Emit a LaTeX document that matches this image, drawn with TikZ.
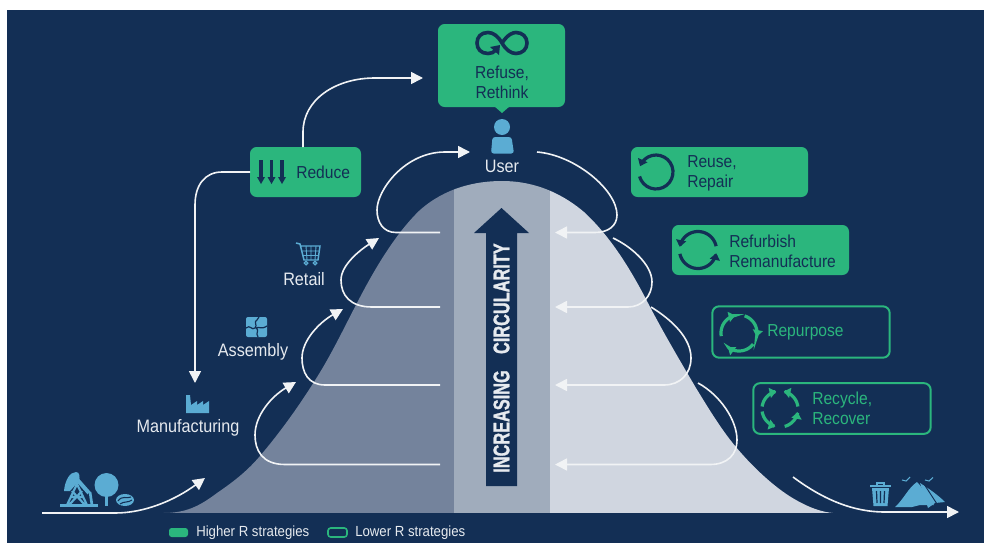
\documentclass[tikz,border=0pt]{standalone}
\usepackage{fontspec}
\setmainfont{Liberation Sans}[FakeStretch=0.9]
\newfontfamily\condbold{Liberation Sans Bold}[FakeStretch=0.72,FakeBold=1.2]
\usetikzlibrary{arrows.meta}
\definecolor{navy}{HTML}{132F55}
\definecolor{grn}{HTML}{2BB67D}
\definecolor{icon}{HTML}{5BACD3}
\definecolor{bellL}{HTML}{74839C}
\definecolor{bellM}{HTML}{A0ACBC}
\definecolor{bellR}{HTML}{D0D6E0}
\definecolor{lab}{HTML}{E6EAEF}
\tikzset{
  flow/.style={draw=white!94!navy,line width=1.2pt,-{Triangle[length=9pt,width=9pt]}},
  hi/.style={fill=grn,rounded corners=5pt,inner sep=0pt,outer sep=0pt},
  lo/.style={draw=grn,line width=1.5pt,rounded corners=5pt,inner sep=0pt,outer sep=0pt},
  tdark/.style={text=navy,font=\fontsize{13}{15}\selectfont,inner sep=0pt,anchor=west},
  tgrn/.style={text=grn,font=\fontsize{13}{15}\selectfont,inner sep=0pt,anchor=west},
  tlab/.style={text=lab,font=\fontsize{13.5}{15}\selectfont,inner sep=0pt},
  tleg/.style={text=lab,font=\fontsize{11}{12}\selectfont,inner sep=0pt,anchor=west},
}
\newcommand{\carc}[7][]{% opts, cx, cy, r, a1, a2, color
  \draw[#7,line width=2.4pt,-{Triangle[length=5pt,width=7.5pt]},#1]
    plot[domain=#5:#6,samples=24,smooth] ({#2+#4*cos(\x)},{#3+#4*sin(\x)});}
\begin{document}
\begin{tikzpicture}[x=0.75pt,y=-0.75pt]
\useasboundingbox (0,0) rectangle (984,543);
\fill[white] (0,0) rectangle (984,543);
\fill[navy] (7,10) rectangle (984,543);
% bell
\def\bell{(163,513) to[out=0,in=-143] (217,493) .. controls (236,480) and (248,470) .. (260,456)
  .. controls (282,430) and (302,402) .. (322,369) .. controls (335,347) and (346,324) .. (357,303)
  .. controls (375,268) and (396,233) .. (420,210) .. controls (445,188) and (475,181) .. (502,181)
  .. controls (530,181) and (558,190) .. (584,212) .. controls (610,236) and (630,268) .. (648,303)
  .. controls (662,330) and (676,354) .. (696,388) .. controls (712,414) and (724,434) .. (742,454)
  .. controls (758,472) and (778,490) .. (796,500) .. controls (810,508) and (822,512) .. (833,513) -- cycle}
\begin{scope}
  \clip \bell;
  \fill[bellL] (150,170) rectangle (454,513);
  \fill[bellM] (454,170) rectangle (550,513);
  \fill[bellR] (550,170) rectangle (840,513);
\end{scope}
% central arrow
\fill[navy] (486,486) -- (517,486) -- (517,233) -- (529,233) -- (501.5,208) -- (474,233) -- (486,233) -- cycle;
\node[rotate=90,text=lab,inner sep=0pt,font=\condbold\fontsize{17}{19}\selectfont] (inc) at (501.5,358) {INCREASING\hspace{0.72em}CIRCULARITY};
% boxes
\node[hi,minimum width=95.25pt,minimum height=62.25pt] (refuse) at (501.5,65.5) {};
\fill[grn] (494,106) -- (510,106) -- (502,113) -- cycle;
\node[hi,minimum width=83.25pt,minimum height=37.5pt] (reduce) at (305.5,172) {};
\node[hi,minimum width=132.75pt,minimum height=37.5pt] (reuse) at (719.5,172) {};
\node[hi,minimum width=132.75pt,minimum height=37.5pt] (refurb) at (760.5,250) {};
\node[lo,minimum width=133pt,minimum height=38.5pt] (repurp) at (801,332) {};
\node[lo,minimum width=133pt,minimum height=38pt] (recyc) at (842,408.5) {};
% box text
\node[text=navy,align=center,font=\fontsize{13}{15}\selectfont,inner sep=0pt] (trefuse) at (502,82) {Refuse,\\Rethink};
\node[tdark] (treduce) at (296,172) {Reduce};
\node[tdark,align=left] (treuse) at (687,173) {Reuse,\\Repair};
\node[tdark,align=left] (trefurb) at (729,251.5) {Refurbish\\Remanufacture};
\node[tgrn] (trepurp) at (767,332) {Repurpose};
\node[tgrn,align=left] (trecyc) at (812,408.5) {Recycle,\\Recover};
% labels
\node[tlab] (user) at (502,166) {User};
\node[tlab] (retail) at (304,279) {Retail};
\node[tlab] (assembly) at (253,352) {Assembly};
\node[tlab] (manuf) at (188,428) {Manufacturing};
% legend
\node[fill=grn,rounded corners=2pt,minimum width=14.25pt,minimum height=6.75pt,inner sep=0pt] (lh) at (178.5,532.5) {};
\node[tleg] (tlh) at (196,532.5) {Higher R strategies};
\node[draw=grn,line width=1.2pt,rounded corners=2pt,minimum width=14.25pt,minimum height=6.75pt,inner sep=0pt] (ll) at (337.5,532.5) {};
\node[tleg] (tll) at (355,532.5) {Lower R strategies};
% coordinates for connectors
\coordinate (redTop) at (303,147);
\coordinate (refIn) at (423,78);
\coordinate (manIn) at (195,383);
\coordinate (srcS) at (42,513);
\coordinate (srcT) at (205,478);
\coordinate (L1) at (440,464.5);
\coordinate (L2) at (440,385);
\coordinate (L3) at (440,307);
\coordinate (L4) at (440,232.5);
\coordinate (T1) at (296,382);
\coordinate (T2) at (343,309);
\coordinate (T3) at (379,238);
\coordinate (T4) at (470,152);
\coordinate (R1) at (555,232.5);
\coordinate (R2) at (555,307);
\coordinate (R3) at (555,385);
\coordinate (R4) at (555,464.5);
\coordinate (U) at (537,152);
\coordinate (S2) at (613,238);
\coordinate (S3) at (651,307);
\coordinate (S4) at (698,383);
\coordinate (S5) at (793,477);
\coordinate (endT) at (959,512);
% connectors
\draw[flow] (redTop) -- (303,132) .. controls (303,100) and (335,78) .. (375,78) -- (refIn);
\draw[flow] (reduce.west) -- (222,172) .. controls (205,172) and (195,185) .. (195,205) -- (manIn);
\draw[flow] (srcS) -- (115,513) .. controls (145,513) and (175,500) .. (srcT);
\draw[flow] (L1) -- (285,464.5) .. controls (262,464.5) and (255,450) .. (255,435) .. controls (255,415) and (272,396) .. (T1);
\draw[flow] (L2) -- (325,385) .. controls (308,385) and (302,372) .. (302,358) .. controls (302,340) and (320,322) .. (T2);
\draw[flow] (L3) -- (372,307) .. controls (350,307) and (341,295) .. (341,280) .. controls (341,265) and (360,250) .. (T3);
\draw[flow] (L4) -- (396,232.5) .. controls (383,232.5) and (377,222) .. (377,210) .. controls (377,190) and (405,152) .. (445,152) -- (T4);
\draw[flow] (U) .. controls (575,155) and (617,190) .. (617,215) .. controls (617,226) and (608,232.5) .. (595,232.5) -- (R1);
\draw[flow] (S2) .. controls (632,247) and (652,265) .. (652,282) .. controls (652,296) and (642,307) .. (628,307) -- (R2);
\draw[flow] (S3) .. controls (672,320) and (691,338) .. (691,358) .. controls (691,374) and (680,385) .. (664,385) -- (R3);
\draw[flow] (S4) .. controls (720,395) and (737,420) .. (737,440) .. controls (737,454) and (728,464.5) .. (710,464.5) -- (R4);
\draw[flow] (S5) .. controls (820,497) and (850,512) .. (885,512) -- (endT);
% --- icons ---
% infinity
\draw[navy,line width=2.7pt] (496,50) .. controls (494,52.5) and (491,53.5) .. (488,53.5) .. controls (481,53.5) and (477,49) .. (477,43)
  .. controls (477,37) and (481,32.5) .. (488,32.5) .. controls (493,32.5) and (498,36) .. (502,43)
  .. controls (506,50) and (511,53.5) .. (516,53.5) .. controls (522.5,53.5) and (527,49) .. (527,43)
  .. controls (527,37) and (522.5,32.5) .. (516,32.5) .. controls (513,32.5) and (508,34) .. (502,43);
\fill[navy] (490,47) -- (500,45) -- (499,55) -- cycle;
% person
\fill[icon] (502,127) circle[radius=8];
\fill[icon,rounded corners=2pt] (491,153.5) -- (492.5,137) -- (511.5,137) -- (514,153.5) -- cycle;
% reduce arrows
\foreach \xx in {261,271.5,282}{
  \draw[navy,line width=2.6pt] (\xx,160) -- (\xx,178);
  \fill[navy] (\xx-4,177) -- (\xx+4,177) -- (\xx,184) -- cycle;
}
% circular icons
\carc{656}{172}{17}{165}{-160}{navy}
\carc{698}{250}{18.5}{-12}{-170}{navy}
\carc{698}{250}{18.5}{168}{10}{navy}
\carc{739}{333}{18}{-72}{12}{grn}
\carc{739}{333}{18}{38}{128}{grn}
\carc{739}{333}{18}{170}{258}{grn}
\carc{780}{409}{18}{-8}{-78}{grn}
\carc{780}{409}{18}{188}{258}{grn}
\carc{780}{409}{18}{75}{10}{grn}
\carc{780}{409}{18}{172}{105}{grn}
% cart
\draw[icon,line width=1.1pt] (296,243) -- (300,244) -- (304,260) -- (318,260) -- (320,246) -- (301,246);
\draw[icon,line width=.7pt] (302,251) -- (319,251) (303,255.5) -- (318.5,255.5) (306,246) -- (307,260) (311,246) -- (311,260) (316,246) -- (315,260);
\draw[icon,line width=1pt] (306,263) circle[radius=1.8] (315,263) circle[radius=1.8];
% puzzle
\fill[icon,rounded corners=1.5pt] (246,317) rectangle (267,337);
\draw[navy,line width=.9pt] (246,328) .. controls (250,324) and (252,331) .. (255,328) .. controls (258,325) and (253,322) .. (257,320) -- (259,317);
\draw[navy,line width=.9pt] (256,328) .. controls (260,330) and (255,333) .. (258,337) (256,328) .. controls (259,326) and (261,330) .. (267,326);
% factory
\fill[icon] (186,413) -- (186,395) -- (190,395) -- (191,405) -- (197,401) -- (197,405) -- (203,401) -- (203,405) -- (209,401) -- (209,413) -- cycle;
% pump jack
\fill[icon] (60,504) rectangle (98,506.5);
\draw[icon,line width=1.6pt] (67,505) -- (77,484) -- (87,505) (70,497) -- (84,497) (72,491) -- (85,505) (82,491) -- (69,505);
\draw[icon,line width=3pt] (74,476) -- (89,493);
\fill[icon] (64,491) .. controls (65,480) and (70,472) .. (76,472) .. controls (80,472) and (80,477) .. (79,481) -- (70,491) -- cycle;
\draw[icon,line width=2pt] (90,492) -- (92,505);
% tree
\fill[icon] (106.5,485) circle[radius=12];
\fill[icon] (105,490) rectangle (108,506);
% rock
\fill[icon] (125,500) ellipse[x radius=9,y radius=6];
\draw[navy,line width=.8pt] (118,501) .. controls (122,495) and (127,499) .. (131,497) (120,504) .. controls (124,501) and (128,503) .. (132,500);
% trash
\draw[icon,line width=1.5pt] (870,486) -- (891,486) (877,485) -- (877,482.5) -- (884,482.5) -- (884,485);
\fill[icon] (872,488) -- (889,488) -- (887.5,506) -- (873.5,506) -- cycle;
\draw[navy,line width=.9pt] (876.5,491) -- (877,503) (880.5,491) -- (880.5,503) (884.5,491) -- (884,503);
% landfill
\fill[icon] (920,483) .. controls (928,488) and (938,495) .. (945,502) -- (935,503) -- (928,508) -- cycle;
\draw[navy,line width=.7pt] (924,484) -- (937,504);
\fill[icon] (895,507) .. controls (904,499) and (908,488) .. (917,482) .. controls (923,488) and (928,498) .. (934,505) -- (920,505) -- (912,507) -- cycle;
\draw[icon,line width=.8pt] (902,480) -- (906,481) -- (910,477) (925,480) -- (929,481) -- (933,477.5);
\end{tikzpicture}
\end{document}
